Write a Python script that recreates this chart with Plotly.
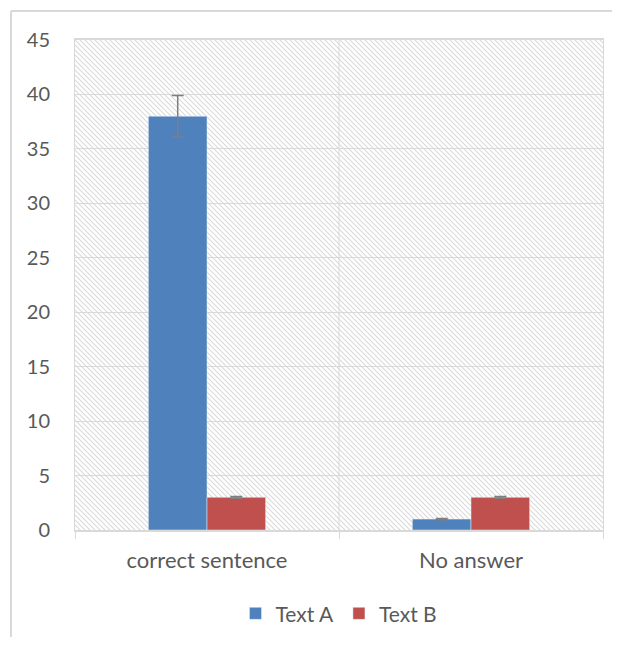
import base64
import plotly.graph_objects as go

categories = ["correct sentence", "No answer"]
text_a = [38, 1]
text_a_err = [1.9, 0.05]
text_b = [3, 3]
text_b_err = [0.08, 0.08]
y_ticks = [0, 5, 10, 15, 20, 25, 30, 35, 40, 45]

OFF = 8  # default body margin of the page
W, H = 620 - 2 * OFF, 645 - 2 * OFF
pw, ph = 528, 490
L, T = 75 - OFF, 40 - OFF
R, B = W - L - pw, H - T - ph

svg = (
    f'<svg xmlns="http://www.w3.org/2000/svg" width="{pw}" height="{ph}">'
    '<defs><pattern id="p" patternUnits="userSpaceOnUse" width="5" height="5">'
    '<path d="M-1,-1 L6,6 M-1,4 L1,6 M4,-1 L6,1" stroke="#d9d9d9" stroke-width="1.1"/>'
    '</pattern></defs>'
    f'<rect width="{pw}" height="{ph}" fill="white"/>'
    f'<rect width="{pw}" height="{ph}" fill="url(#p)"/></svg>'
)
src = "data:image/svg+xml;base64," + base64.b64encode(svg.encode()).decode()

font = "Lato, 'Open Sans', sans-serif"

fig = go.Figure()
fig.add_bar(
    name="Text A", x=categories, y=text_a, marker_color="#4f81bd",
    error_y=dict(type="data", array=text_a_err, color="#7f7f7f", thickness=1.5, width=6),
)
fig.add_bar(
    name="Text B", x=categories, y=text_b, marker_color="#c0504d",
    error_y=dict(type="data", array=text_b_err, color="#7f7f7f", thickness=1.5, width=6),
)

bx = (11 - OFF - L) / pw
by = 1 + (T - (11 - OFF)) / ph

fig.update_layout(
    width=W, height=H,
    margin=dict(l=L, r=R, t=T, b=B, pad=0, autoexpand=False),
    paper_bgcolor="white",
    plot_bgcolor="rgba(0,0,0,0)",
    barmode="group",
    bargap=0.556,
    bargroupgap=0,
    font=dict(family=font, size=21, color="#595959"),
    showlegend=True,
    legend=dict(orientation="h", x=0.5, xanchor="center", y=-0.129, yanchor="top",
                font=dict(size=21, color="#595959"), traceorder="normal"),
    images=[dict(source=src, xref="paper", yref="paper", x=0, y=1, sizex=1, sizey=1,
                 sizing="stretch", layer="below", xanchor="left", yanchor="top")],
    shapes=[
        dict(type="line", xref="paper", yref="paper",
             x0=bx, x1=(W - L) / pw + 0.05, y0=by, y1=by,
             line=dict(color="#d9d9d9", width=2)),
        dict(type="line", xref="paper", yref="paper",
             x0=bx, x1=bx, y0=by, y1=-(B + 20) / ph,
             line=dict(color="#d9d9d9", width=2)),
        dict(type="line", xref="x", yref="paper", x0=0.5, x1=0.5, y0=0, y1=1,
             line=dict(color="#d9d9d9", width=1)),
    ],
)
fig.update_yaxes(
    range=[0, 45], tickvals=y_ticks, showgrid=True, gridcolor="#d9d9d9", gridwidth=1,
    zeroline=False, showline=True, linecolor="#d9d9d9", mirror=True,
    ticks="", ticklabelstandoff=20, tickfont=dict(size=20, color="#595959"),
)
fig.update_xaxes(
    showgrid=False, showline=True, linecolor="#d9d9d9", linewidth=1.5, mirror=True,
    ticks="outside", tickson="boundaries", ticklen=7, tickcolor="#d9d9d9",
    tickfont=dict(size=22, color="#595959"), ticklabelstandoff=10,
)

fig.write_html("out.html")
